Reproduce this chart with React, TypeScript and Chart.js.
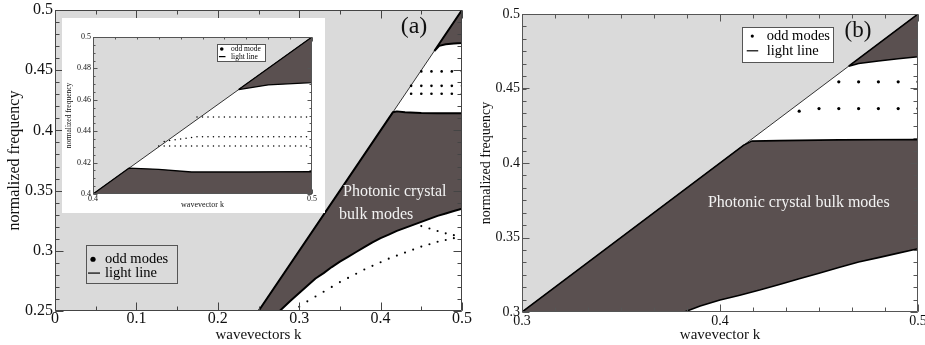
import React, { useEffect, useRef } from 'react';
import { Chart, registerables } from 'chart.js';

Chart.register(...registerables);

// ---------------- Panel (a) data ----------------
const aXTicks = [0, 0.1, 0.2, 0.3, 0.4, 0.5];
const aYTicks = [0.25, 0.3, 0.35, 0.4, 0.45, 0.5];
const aLightK = [0, 0.5];
const aLightW = [0, 0.5];
const aBandK = [0.25, 0.415, 0.42, 0.43, 0.45, 0.47, 0.5, 0.5, 0.49, 0.48, 0.47, 0.46, 0.45, 0.44, 0.43, 0.42, 0.41, 0.4, 0.39, 0.38, 0.37, 0.36, 0.35, 0.34, 0.33, 0.32, 0.31, 0.3, 0.29, 0.276, 0.25];
const aBandW = [0.25, 0.415, 0.4158, 0.415, 0.4145, 0.4143, 0.4142, 0.335, 0.333, 0.331, 0.329, 0.3265, 0.324, 0.3215, 0.319, 0.3165, 0.3135, 0.3105, 0.307, 0.303, 0.299, 0.295, 0.291, 0.2865, 0.2815, 0.277, 0.271, 0.265, 0.259, 0.25, 0.25];
const aWedgeK = [0.466, 0.5, 0.5, 0.49, 0.48, 0.472, 0.466];
const aWedgeW = [0.466, 0.5, 0.4725, 0.4722, 0.4716, 0.4702, 0.466];
const aRow1K = [0.45, 0.4625, 0.475, 0.4875, 0.5];
const aRow1W = 0.449;
const aRow2K = [0.4375, 0.45, 0.4625, 0.475, 0.4875, 0.5];
const aRow2W = 0.437;
const aRow3K = [0.4375, 0.45, 0.4625, 0.475, 0.4875, 0.5];
const aRow3W = 0.4305;
const aRiseK = [0.3, 0.31, 0.32, 0.33, 0.34, 0.35, 0.36, 0.37, 0.38, 0.39, 0.4, 0.41, 0.42, 0.43, 0.44, 0.45, 0.46, 0.47, 0.48, 0.49, 0.5];
const aRiseW = [0.2535, 0.258, 0.262, 0.266, 0.27, 0.274, 0.2775, 0.281, 0.2845, 0.2875, 0.2905, 0.2935, 0.296, 0.2985, 0.301, 0.3035, 0.3055, 0.3075, 0.309, 0.3105, 0.312];
const aFallK = [0.45, 0.46, 0.47, 0.48, 0.49, 0.5];
const aFallW = [0.3205, 0.3185, 0.3165, 0.3145, 0.313, 0.3115];

// ---------------- Inset of (a) data ----------------
const iXTicks = [0.4, 0.5];
const iYTicks = [0.4, 0.42, 0.44, 0.46, 0.48, 0.5];
const iLightK = [0.4, 0.5];
const iLightW = [0.4, 0.5];
const iBandK = [0.4, 0.4165, 0.43, 0.445, 0.47, 0.5, 0.5, 0.4];
const iBandW = [0.4, 0.4165, 0.4157, 0.414, 0.414, 0.4143, 0.4, 0.4];
const iWedgeK = [0.4665, 0.5, 0.5, 0.48, 0.4665];
const iWedgeW = [0.4665, 0.5, 0.471, 0.4695, 0.4665];
const iRow1K = [0.4475, 0.45, 0.4525, 0.455, 0.4575, 0.46, 0.4625, 0.465, 0.4675, 0.47, 0.4725, 0.475, 0.4775, 0.48, 0.4825, 0.485, 0.4875, 0.49, 0.4925, 0.495, 0.4975, 0.5];
const iRow1W = 0.449;
const iRow2aK = [0.4325, 0.435, 0.4375, 0.44, 0.4425, 0.445];
const iRow2aW = [0.4335, 0.434, 0.4345, 0.435, 0.4355, 0.436];
const iRow2bK = [0.4475, 0.45, 0.4525, 0.455, 0.4575, 0.46, 0.4625, 0.465, 0.4675, 0.47, 0.4725, 0.475, 0.4775, 0.48, 0.4825, 0.485, 0.4875, 0.49, 0.4925, 0.495, 0.4975, 0.5];
const iRow2bW = 0.4365;
const iRow3K = [0.43, 0.4325, 0.435, 0.4375, 0.44, 0.4425, 0.445, 0.4475, 0.45, 0.4525, 0.455, 0.4575, 0.46, 0.4625, 0.465, 0.4675, 0.47, 0.4725, 0.475, 0.4775, 0.48, 0.4825, 0.485, 0.4875, 0.49, 0.4925, 0.495, 0.4975, 0.5];
const iRow3W = 0.4305;

// ---------------- Panel (b) data ----------------
const bXTicks = [0.3, 0.4, 0.5];
const bYTicks = [0.3, 0.35, 0.4, 0.45, 0.5];
const bLightK = [0.3, 0.5];
const bLightW = [0.3, 0.5];
const bBandK = [0.3, 0.412, 0.416, 0.43, 0.46, 0.5, 0.5, 0.49, 0.48, 0.47, 0.46, 0.45, 0.44, 0.43, 0.42, 0.41, 0.4, 0.39, 0.382, 0.3];
const bBandW = [0.3, 0.412, 0.4147, 0.415, 0.4155, 0.4158, 0.3425, 0.3395, 0.3365, 0.3335, 0.3298, 0.326, 0.3223, 0.3185, 0.3147, 0.3113, 0.3081, 0.304, 0.3, 0.3];
const bWedgeK = [0.465, 0.5, 0.5, 0.49, 0.48, 0.47, 0.465];
const bWedgeW = [0.465, 0.5, 0.4713, 0.47, 0.4685, 0.4668, 0.465];
const bRow1K = [0.46, 0.47, 0.48, 0.49, 0.5];
const bRow1W = 0.4545;
const bRow2K = [0.44, 0.45, 0.46, 0.47, 0.48, 0.49, 0.5];
const bRow2W = [0.4348, 0.4365, 0.4365, 0.4365, 0.4365, 0.4365, 0.4365];

// ---------------- styling ----------------
const SERIF = "'Liberation Serif', 'Times New Roman', Times, serif";
const GRAY = '#dadada';
const DARK = '#5a5050';

const pts = (ks: number[], ws: number[] | number) =>
  ks.map((k, i) => ({ x: k, y: Array.isArray(ws) ? ws[i] : ws }));

const fmt = (v: any) => String(Number(Number(v).toFixed(3)));

function lightDs(ks: number[], ws: number[]) {
  return {
    data: pts(ks, ws), fill: 'end', backgroundColor: GRAY, borderColor: '#333',
    borderWidth: 1, pointRadius: 0, tension: 0, order: 10,
  };
}
function polyDs(ks: number[], ws: number[], bw: number) {
  return {
    data: pts(ks, ws), fill: 'shape', backgroundColor: DARK, borderColor: '#000',
    borderWidth: bw, pointRadius: 0, tension: 0, order: 5, borderJoinStyle: 'round',
  };
}
function dotDs(ks: number[], ws: number[] | number, r: number) {
  return {
    data: pts(ks, ws), showLine: false, pointRadius: r, pointBackgroundColor: '#000',
    pointBorderWidth: 0, backgroundColor: '#000', borderColor: '#000', order: 1,
  };
}

type TextItem = { t: string; k: number; w: number; size: number; color: string; align?: CanvasTextAlign };
type LegendItem = { kind: 'dot' | 'line'; k: number; k2?: number; w: number; r?: number; label: string; tk: number };
type Deco = {
  frame: string;
  xMinor: number; yMinor: number;
  majorLen: number; minorLen: number;
  texts: TextItem[];
  legend?: { box: [number, number, number, number]; fill?: string; stroke: string; size: number; items: LegendItem[] };
};

function decoPlugin(d: Deco) {
  return {
    id: 'deco',
    afterDatasetsDraw(chart: any) {
      const { ctx, chartArea: ca } = chart;
      const xs = chart.scales.x;
      const ys = chart.scales.y;
      ctx.save();
      const L = Math.round(ca.left) + 0.5;
      const R = Math.round(ca.right) - 0.5;
      const T = Math.round(ca.top) + 0.5;
      const B = Math.round(ca.bottom) - 0.5;
      ctx.strokeStyle = d.frame;
      ctx.lineWidth = 1;
      ctx.beginPath();
      ctx.rect(L, T, R - L, B - T);
      ctx.stroke();
      const steps = (min: number, max: number, step: number) => {
        const n = Math.round((max - min) / step);
        const out: number[] = [];
        for (let i = 0; i <= n; i++) out.push(min + i * step);
        return out;
      };
      const drawX = (vals: number[], len: number) => {
        ctx.beginPath();
        for (const v of vals) {
          const p = Math.round(xs.getPixelForValue(v)) + 0.5;
          ctx.moveTo(p, B); ctx.lineTo(p, B - len);
          ctx.moveTo(p, T); ctx.lineTo(p, T + len);
        }
        ctx.stroke();
      };
      const drawY = (vals: number[], len: number) => {
        ctx.beginPath();
        for (const v of vals) {
          const p = Math.round(ys.getPixelForValue(v)) + 0.5;
          ctx.moveTo(L, p); ctx.lineTo(L + len, p);
          ctx.moveTo(R, p); ctx.lineTo(R - len, p);
        }
        ctx.stroke();
      };
      drawX(steps(xs.min, xs.max, d.xMinor), d.minorLen);
      drawY(steps(ys.min, ys.max, d.yMinor), d.minorLen);
      drawX(xs.ticks.map((t: any) => t.value), d.majorLen);
      drawY(ys.ticks.map((t: any) => t.value), d.majorLen);

      if (d.legend) {
        const lg = d.legend;
        const x0 = Math.round(xs.getPixelForValue(lg.box[0])) + 0.5;
        const y0 = Math.round(ys.getPixelForValue(lg.box[1])) + 0.5;
        const x1 = Math.round(xs.getPixelForValue(lg.box[2])) + 0.5;
        const y1 = Math.round(ys.getPixelForValue(lg.box[3])) + 0.5;
        if (lg.fill) { ctx.fillStyle = lg.fill; ctx.fillRect(x0, y0, x1 - x0, y1 - y0); }
        ctx.strokeStyle = lg.stroke; ctx.lineWidth = 1;
        ctx.strokeRect(x0, y0, x1 - x0, y1 - y0);
        ctx.font = `${lg.size}px ${SERIF}`;
        ctx.textBaseline = 'middle';
        ctx.textAlign = 'left';
        for (const it of lg.items) {
          const py = ys.getPixelForValue(it.w);
          ctx.fillStyle = '#000'; ctx.strokeStyle = '#000';
          if (it.kind === 'dot') {
            ctx.beginPath();
            ctx.arc(xs.getPixelForValue(it.k), py, it.r || 2, 0, Math.PI * 2);
            ctx.fill();
          } else {
            ctx.lineWidth = 1.2;
            ctx.beginPath();
            ctx.moveTo(xs.getPixelForValue(it.k), py);
            ctx.lineTo(xs.getPixelForValue(it.k2 as number), py);
            ctx.stroke();
          }
          ctx.fillText(it.label, xs.getPixelForValue(it.tk), py);
        }
      }
      for (const tx of d.texts) {
        ctx.font = `${tx.size}px ${SERIF}`;
        ctx.fillStyle = tx.color;
        ctx.textAlign = tx.align || 'center';
        ctx.textBaseline = 'middle';
        ctx.fillText(tx.t, xs.getPixelForValue(tx.k), ys.getPixelForValue(tx.w));
      }
      ctx.restore();
    },
  };
}

type Cfg = {
  datasets: any[];
  xTicks: number[]; yTicks: number[];
  xMin: number; xMax: number; yMin: number; yMax: number;
  yWidth: number; xHeight: number;
  padding: { left: number; right: number; top: number; bottom: number };
  tickSize: number; xTickPad: number; yTickPad: number;
  xTitle: string; yTitle: string; xTitleSize: number; yTitleSize: number;
  xTitlePad: number; yTitlePad: number;
  deco: Deco;
};

function makeConfig(c: Cfg): any {
  return {
    type: 'line',
    data: { datasets: c.datasets },
    options: {
      responsive: false,
      animation: false,
      events: [],
      layout: { padding: c.padding },
      plugins: { legend: { display: false }, tooltip: { enabled: false } },
      scales: {
        x: {
          type: 'linear', min: c.xMin, max: c.xMax,
          afterBuildTicks: (s: any) => { s.ticks = c.xTicks.map((v) => ({ value: v })); },
          afterFit: (s: any) => { s.height = c.xHeight; s.paddingLeft = 0; s.paddingRight = 0; },
          grid: { display: false, drawTicks: false },
          border: { display: false },
          ticks: {
            autoSkip: false, maxRotation: 0, minRotation: 0, padding: c.xTickPad, color: '#111',
            font: { family: SERIF, size: c.tickSize }, callback: fmt,
          },
          title: {
            display: true, text: c.xTitle, color: '#111',
            font: { family: SERIF, size: c.xTitleSize }, padding: { top: 0, bottom: c.xTitlePad },
          },
        },
        y: {
          type: 'linear', min: c.yMin, max: c.yMax,
          afterBuildTicks: (s: any) => { s.ticks = c.yTicks.map((v) => ({ value: v })); },
          afterFit: (s: any) => { s.width = c.yWidth; s.paddingTop = 0; s.paddingBottom = 0; },
          grid: { display: false, drawTicks: false },
          border: { display: false },
          ticks: {
            autoSkip: false, padding: c.yTickPad, color: '#111',
            font: { family: SERIF, size: c.tickSize }, callback: fmt,
          },
          title: {
            display: true, text: c.yTitle, color: '#111',
            font: { family: SERIF, size: c.yTitleSize }, padding: { top: c.yTitlePad, bottom: 0 },
          },
        },
      },
    },
    plugins: [decoPlugin(c.deco)],
  };
}

const cfgA = () => makeConfig({
  datasets: [
    lightDs(aLightK, aLightW),
    polyDs(aBandK, aBandW, 2),
    polyDs(aWedgeK, aWedgeW, 2),
    dotDs(aRow1K, aRow1W, 1.3),
    dotDs(aRow2K, aRow2W, 1.3),
    dotDs(aRow3K, aRow3W, 1.3),
    dotDs(aRiseK, aRiseW, 1.05),
    dotDs(aFallK, aFallW, 1.05),
  ],
  xTicks: aXTicks, yTicks: aYTicks, xMin: 0, xMax: 0.5, yMin: 0.25, yMax: 0.5,
  yWidth: 55, xHeight: 34, padding: { left: 0, right: 18, top: 10, bottom: 0 },
  tickSize: 16, xTickPad: -2, yTickPad: 2,
  xTitle: 'wavevectors k', yTitle: 'normalized frequency', xTitleSize: 15, yTitleSize: 16,
  xTitlePad: 1, yTitlePad: 5,
  deco: {
    frame: '#444', xMinor: 0.05, yMinor: 0.01, majorLen: 8, minorLen: 4,
    texts: [
      { t: '(a)', k: 0.441, w: 0.4859, size: 24, color: '#111' },
      { t: 'Photonic crystal', k: 0.3538, w: 0.3493, size: 16, color: '#f2f2f2', align: 'left' },
      { t: 'bulk modes', k: 0.3489, w: 0.3295, size: 16, color: '#f2f2f2', align: 'left' },
    ],
    legend: {
      box: [0.0381, 0.3046, 0.1499, 0.2732], stroke: '#555', size: 14.5,
      items: [
        { kind: 'dot', k: 0.0467, w: 0.293, r: 2.6, label: 'odd modes', tk: 0.0614 },
        { kind: 'line', k: 0.0405, k2: 0.0553, w: 0.2815, label: 'light line', tk: 0.0614 },
      ],
    },
  },
});

const cfgI = () => makeConfig({
  datasets: [
    lightDs(iLightK, iLightW),
    polyDs(iBandK, iBandW, 1.3),
    polyDs(iWedgeK, iWedgeW, 1.3),
    dotDs(iRow1K, iRow1W, 0.75),
    dotDs(iRow2aK, iRow2aW, 0.75),
    dotDs(iRow2bK, iRow2bW, 0.75),
    dotDs(iRow3K, iRow3W, 0.75),
  ],
  xTicks: iXTicks, yTicks: iYTicks, xMin: 0.4, xMax: 0.5, yMin: 0.4, yMax: 0.5,
  yWidth: 31, xHeight: 19, padding: { left: 0, right: 13, top: 19, bottom: 0 },
  tickSize: 8, xTickPad: 0, yTickPad: 2,
  xTitle: 'wavevector k', yTitle: 'normalized frequency', xTitleSize: 8, yTitleSize: 7.5,
  xTitlePad: 3, yTitlePad: 3,
  deco: {
    frame: '#555', xMinor: 0.01, yMinor: 0.005, majorLen: 4, minorLen: 2,
    texts: [],
    legend: {
      box: [0.4566, 0.4955, 0.4785, 0.4847], fill: '#fff', stroke: '#555', size: 7.5,
      items: [
        { kind: 'dot', k: 0.4588, w: 0.4924, r: 1.8, label: 'odd mode', tk: 0.463 },
        { kind: 'line', k: 0.4575, k2: 0.4605, w: 0.4875, label: 'light line', tk: 0.463 },
      ],
    },
  },
});

const cfgB = () => makeConfig({
  datasets: [
    lightDs(bLightK, bLightW),
    polyDs(bBandK, bBandW, 1.6),
    polyDs(bWedgeK, bWedgeW, 1.6),
    dotDs(bRow1K, bRow1W, 1.6),
    dotDs(bRow2K, bRow2W, 1.6),
  ],
  xTicks: bXTicks, yTicks: bYTicks, xMin: 0.3, xMax: 0.5, yMin: 0.3, yMax: 0.5,
  yWidth: 42, xHeight: 33, padding: { left: 0, right: 7, top: 14, bottom: 0 },
  tickSize: 14, xTickPad: 1, yTickPad: 2,
  xTitle: 'wavevector k', yTitle: 'normalized frequency', xTitleSize: 15, yTitleSize: 14,
  xTitlePad: 1, yTitlePad: -2,
  deco: {
    frame: '#555', xMinor: 0.1 / 6, yMinor: 0.05 / 6, majorLen: 7, minorLen: 4,
    texts: [
      { t: '(b)', k: 0.4697, w: 0.4886, size: 23, color: '#111' },
      { t: 'Photonic crystal bulk modes', k: 0.3939, w: 0.373, size: 16, color: '#f2f2f2', align: 'left' },
    ],
    legend: {
      box: [0.411, 0.4911, 0.4569, 0.4679], fill: '#fff', stroke: '#555', size: 14.5,
      items: [
        { kind: 'dot', k: 0.4163, w: 0.4852, r: 1.6, label: 'odd modes', tk: 0.4236 },
        { kind: 'line', k: 0.4135, k2: 0.4193, w: 0.4753, label: 'light line', tk: 0.4236 },
      ],
    },
  },
});

export default function App() {
  const aRef = useRef<HTMLCanvasElement>(null);
  const bRef = useRef<HTMLCanvasElement>(null);
  const iRef = useRef<HTMLCanvasElement>(null);

  useEffect(() => {
    const charts: Chart[] = [];
    if (aRef.current) charts.push(new Chart(aRef.current, cfgA()));
    if (bRef.current) charts.push(new Chart(bRef.current, cfgB()));
    if (iRef.current) charts.push(new Chart(iRef.current, cfgI()));
    return () => charts.forEach((c) => c.destroy());
  }, []);

  return (
    <div style={{ position: 'fixed', left: 0, top: 0, width: 925, height: 345, background: '#fff', overflow: 'hidden' }}>
      <canvas ref={aRef} width={480} height={345}
        style={{ position: 'absolute', left: 0, top: 0, width: 480, height: 345 }} />
      <canvas ref={bRef} width={445} height={345}
        style={{ position: 'absolute', left: 480, top: 0, width: 445, height: 345 }} />
      <canvas ref={iRef} width={263} height={195}
        style={{ position: 'absolute', left: 62, top: 18, width: 263, height: 195, background: '#fff', zIndex: 2 }} />
    </div>
  );
}
